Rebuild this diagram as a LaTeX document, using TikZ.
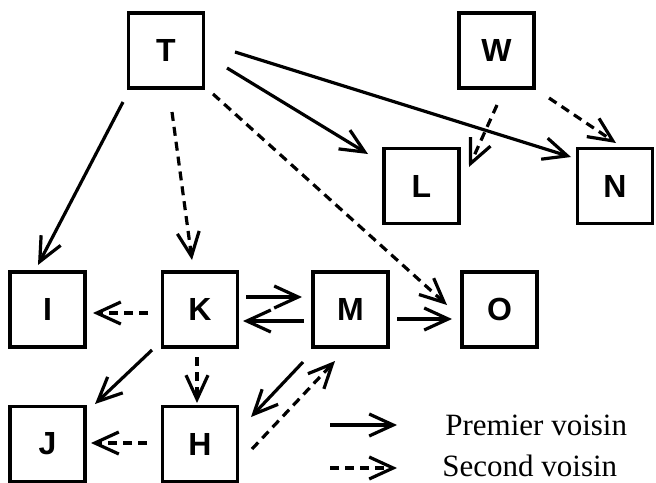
\documentclass[tikz,border=0pt]{standalone}
\usepackage{fontspec}
\setmainfont{Liberation Serif}
\setsansfont{Liberation Sans}
\usetikzlibrary{arrows.meta}

\tikzset{
	box/.style={draw, line width=1.7pt, minimum size=37.5pt, inner sep=0pt,
		font=\sffamily\bfseries\fontsize{16}{19}\selectfont},
	sol/.style={line width=1.6pt, -{Straight Barb[length=12pt,width=11pt,line width=1.6pt]}},
	dsh/.style={sol, dash pattern=on 4.5pt off 3pt},
	legtext/.style={anchor=base west, inner sep=0pt, font=\fontsize{15.5}{18}\selectfont},
}

\begin{document}
\begin{tikzpicture}[x=0.5pt,y=-0.5pt]
	
	\useasboundingbox (0,0) rectangle (656,482);

% les noeuds
\node[box] (T) at (166,50.5) {T};
\node[box] (W) at (496.5,50.5) {W};
\node[box] (L) at (421.5,186) {L};
\node[box] (N) at (615,186) {N};
\node[box] (I) at (47.5,309.5) {I};
\node[box] (K) at (200,309.5) {K};
\node[box] (M) at (350.5,309.5) {M};
\node[box] (O) at (499.5,309.5) {O};
\node[box] (J) at (47.5,444) {J};
\node[box] (H) at (200,444) {H};

% premiers voisins
\draw[sol] ([shift={(-43,51.5)}]T.center) -- ([shift={(-9.5,-44.5)}]I.center);
\draw[sol] ([shift={(61,17.5)}]T.center) -- ([shift={(-53.5,-32)}]L.center);
\draw[sol] ([shift={(69,1.5)}]T.center) -- ([shift={(-44,-29)}]N.center);
\draw[sol] ([shift={(46,-12.5)}]K.center) -- ([shift={(-48.5,-12.5)}]M.center);
\draw[sol] ([shift={(-46.5,11.5)}]M.center) -- ([shift={(43,11.5)}]K.center);
\draw[sol] ([shift={(-48,40.5)}]K.center) -- ([shift={(47.5,-40)}]J.center);
\draw[sol] ([shift={(-47.5,52.5)}]M.center) -- ([shift={(51,-27)}]H.center);
\draw[sol] ([shift={(46.5,9.5)}]M.center) -- ([shift={(-47.5,9.5)}]O.center);

% seconds voisins
\draw[dsh] ([shift={(6,61.5)}]T.center) -- ([shift={(-8,-49.5)}]K.center);
\draw[dsh] ([shift={(47,43.5)}]T.center) -- ([shift={(-52.5,-4.5)}]O.center);
\draw[dsh] ([shift={(0.5,54.5)}]W.center) -- ([shift={(47.5,-19)}]L.center);
\draw[dsh] ([shift={(52.5,47.5)}]W.center) -- ([shift={(1,-43)}]N.center);
\draw[dsh] ([shift={(-52,3.5)}]K.center) -- ([shift={(45.5,3.5)}]I.center);
\draw[dsh] ([shift={(-3,47.5)}]K.center) -- ([shift={(-3,-41)}]H.center);
\draw[dsh] ([shift={(-53,-1)}]H.center) -- ([shift={(43.5,-1)}]J.center);
\draw[dsh] ([shift={(52,5)}]H.center) -- ([shift={(-15.5,51.5)}]M.center);

% legende
\coordinate (s1) at (330,425);
\coordinate (s2) at (397,425);
\coordinate (d1) at (330,468);
\coordinate (d2) at (397,468);
\draw[sol] (s1) -- (s2);
\draw[dsh] (d1) -- (d2);
\node[legtext] (prem) at (445,435) {Premier voisin};
\node[legtext] (sec) at (442,476) {Second voisin};

	\end{tikzpicture}
\end{document}
